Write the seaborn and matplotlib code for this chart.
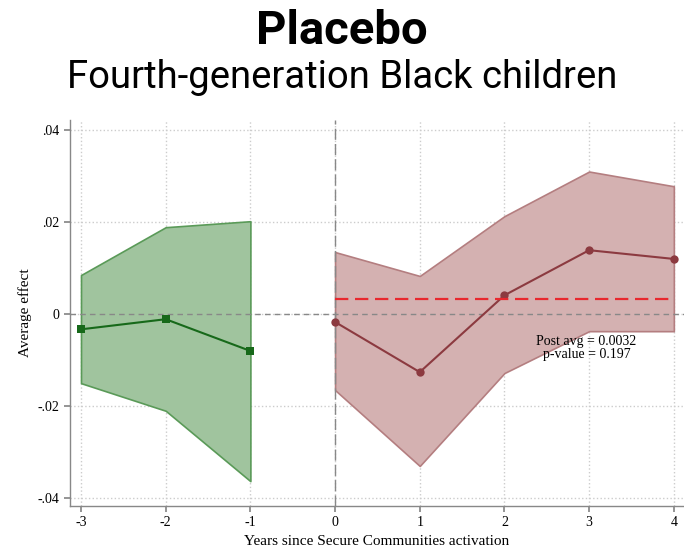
import numpy as np
import pandas as pd
import seaborn as sns
import matplotlib.pyplot as plt

pre_years = [-3, -2, -1]
pre_est = [-0.0033, -0.0011, -0.0080]
pre_lo = [-0.0150, -0.0210, -0.0363]
pre_hi = [0.0085, 0.0189, 0.0202]

post_years = [0, 1, 2, 3, 4]
post_est = [-0.0017, -0.0126, 0.0041, 0.0139, 0.0120]
post_lo = [-0.0165, -0.0330, -0.0128, -0.0037, -0.0037]
post_hi = [0.0135, 0.0083, 0.0213, 0.0310, 0.0278]

post_avg = 0.0032
p_value = 0.197

x_ticks = [-3, -2, -1, 0, 1, 2, 3, 4]
x_labels = ["-3", "-2", "-1", "0", "1", "2", "3", "4"]
y_ticks = [-0.04, -0.02, 0, 0.02, 0.04]
y_labels = ["-.04", "-.02", "0", ".02", ".04"]

pre = pd.DataFrame({"year": pre_years, "est": pre_est})
post = pd.DataFrame({"year": post_years, "est": post_est})

sns.set_theme(style="white")
plt.rcParams["text.color"] = "black"
plt.rcParams["axes.labelcolor"] = "black"
plt.rcParams["xtick.color"] = "black"
plt.rcParams["ytick.color"] = "black"
serif = "Liberation Serif"

fig = plt.figure(figsize=(6.84, 5.59), dpi=100)
ax = fig.add_axes([70 / 684, 53 / 559, 614 / 684, 386 / 559])

ax.fill_between(pre_years, pre_lo, pre_hi, color="#a0c49e", edgecolor="#5a9a58", linewidth=1.2, zorder=2)
ax.fill_between(post_years, post_lo, post_hi, color="#d4b1b1", edgecolor="#b47e80", linewidth=1.2, zorder=2)

sns.lineplot(data=pre, x="year", y="est", ax=ax, color="#17691a", marker="s", markersize=6,
             markeredgewidth=0, linewidth=1.5, zorder=4)
sns.lineplot(data=post, x="year", y="est", ax=ax, color="#8c3a40", marker="o", markersize=6,
             markeredgewidth=0, linewidth=1.5, zorder=4)

ax.axhline(0, color="#888888", linestyle=(0, (4, 3)), linewidth=1, zorder=3)
ax.axvline(0, color="#888888", linestyle=(0, (8, 3)), linewidth=1, zorder=3)
ax.plot([0, 4], [post_avg, post_avg], color="#e8282e", linestyle=(0, (6, 3)), linewidth=1.6, zorder=5)

ax.text(2.97, -0.0074, f"Post avg = {post_avg}\np-value = {p_value}", ha="center", va="center",
        fontsize=10, family=serif, linespacing=1.0, zorder=6)

ax.set_xlim(-3.13, 4.12)
ax.set_ylim(-0.0417, 0.0422)
ax.set_xticks(x_ticks)
ax.set_xticklabels(x_labels)
ax.set_yticks(y_ticks)
ax.set_yticklabels(y_labels)
ax.grid(True, color="#cccccc", linestyle=":", linewidth=1)
ax.set_axisbelow(True)
for s in ["top", "right"]:
    ax.spines[s].set_visible(False)
for s in ["left", "bottom"]:
    ax.spines[s].set_color("#888888")
    ax.spines[s].set_linewidth(1)
ax.tick_params(axis="both", length=4, color="#888888", labelsize=10, direction="out",
               bottom=True, left=True)
for lab in ax.get_xticklabels() + ax.get_yticklabels():
    lab.set_family(serif)
ax.set_xlabel("Years since Secure Communities activation", family=serif, fontsize=11)
ax.set_ylabel("Average effect", family=serif, fontsize=11)

fig.text(0.5, 1 - 31 / 559, "Placebo", ha="center", va="center", fontsize=34,
         fontweight="bold", family="Roboto")
fig.text(0.5, 1 - 78 / 559, "Fourth-generation Black children", ha="center", va="center",
         fontsize=27.5, family="Roboto")

fig.savefig("out.png", dpi=100)
